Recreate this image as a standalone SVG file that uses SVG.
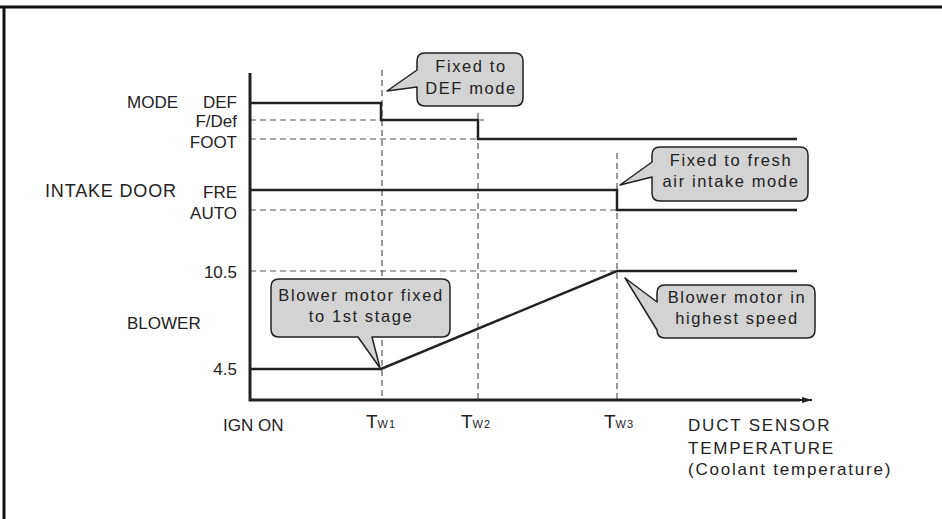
<svg xmlns="http://www.w3.org/2000/svg" width="942" height="519" viewBox="0 0 942 519">
  <style>
    .lbl { font-family: "Liberation Sans", Arial, sans-serif; font-size: 17px; fill: #222; }
    .wide { letter-spacing: 1.8px; }
    .call { font-family: "Liberation Sans", Arial, sans-serif; font-size: 16.5px; fill: #222; letter-spacing: 1.6px; text-anchor: middle; }
    .tw { font-size: 19px; }
    .sub { font-size: 11px; letter-spacing: 1px; }
    .axis { stroke: #222; stroke-width: 3; fill: none; }
    .trace { stroke: #222; stroke-width: 2.5; fill: none; stroke-linejoin: miter; }
    .guide { stroke: #555; stroke-width: 1.2; stroke-dasharray: 6 4; fill: none; }
    .bubble { fill: #d3d3d3; stroke: #222; stroke-width: 1.5; stroke-linejoin: round; }
  </style>
  <defs>
    <marker id="arrow" viewBox="0 0 10 6" refX="10" refY="3" markerWidth="10" markerHeight="6" markerUnits="userSpaceOnUse" orient="auto">
      <path d="M0,0 L10,3 L0,6 Z" fill="#222"/>
    </marker>
  </defs>

  <rect width="942" height="519" fill="#fff"/>
  <!-- frame -->
  <path d="M0,7 H942 M4,7 V519" stroke="#111" stroke-width="3" fill="none"/>

  <!-- dashed guide lines -->
  <g id="guides">
    <path class="guide" d="M382,70 V400 M478,113 V400 M617,153 V400"/>
    <path class="guide" d="M250,120 H484 M250,139 H478 M250,210 H617 M250,271 H617"/>
  </g>

  <!-- axes -->
  <g id="axes">
    <path class="axis" d="M250,73 V400 H800"/>
    <path d="M798,400 H812" stroke="#222" stroke-width="2" marker-end="url(#arrow)"/>
  </g>

  <!-- signal traces -->
  <g id="connectors">
    <path class="trace" d="M250,103 H381 V120 H478 V139 H797"/>
    <path class="trace" d="M250,190 H617 V210 H797"/>
    <path class="trace" d="M250,369 H381 L617,271 H797"/>
  </g>

  <!-- axis labels -->
  <g id="labels">
    <text class="lbl" x="127" y="108">MODE</text>
    <text class="lbl" x="237" y="108" text-anchor="end">DEF</text>
    <text class="lbl" x="237" y="127" text-anchor="end">F/Def</text>
    <text class="lbl" x="237" y="148" text-anchor="end">FOOT</text>
    <text class="lbl" x="45" y="197" style="font-size:18px" textLength="131" lengthAdjust="spacing">INTAKE DOOR</text>
    <text class="lbl" x="237" y="198" text-anchor="end">FRE</text>
    <text class="lbl" x="237" y="219" text-anchor="end">AUTO</text>
    <text class="lbl" x="237" y="278" text-anchor="end">10.5</text>
    <text class="lbl" x="127" y="329">BLOWER</text>
    <text class="lbl" x="237" y="375" text-anchor="end">4.5</text>
    <text class="lbl" x="223" y="431">IGN ON</text>
    <text class="lbl tw" x="366" y="428">T<tspan class="sub">W1</tspan></text>
    <text class="lbl tw" x="461" y="428">T<tspan class="sub">W2</tspan></text>
    <text class="lbl tw" x="604" y="428">T<tspan class="sub">W3</tspan></text>
    <text class="lbl wide" x="688" y="431">DUCT SENSOR</text>
    <text class="lbl wide" x="688" y="454">TEMPERATURE</text>
    <text class="lbl wide" x="688" y="475">(Coolant temperature)</text>
  </g>

  <!-- callouts -->
  <g id="callout-def">
    <path class="bubble" d="M425,53 H515 Q523,53 523,61 V98 Q523,106 515,106 H425 Q417,106 417,98 V87 L387,91 L417,70 V61 Q417,53 425,53 Z"/>
    <text class="call" x="471" y="72">Fixed to</text>
    <text class="call" x="471" y="94">DEF mode</text>
  </g>
  <g id="callout-fresh">
    <path class="bubble" d="M660,147 H800 Q808,147 808,155 V193 Q808,201 800,201 H660 Q652,201 652,193 V177 L620,185 L652,162 V155 Q652,147 660,147 Z"/>
    <text class="call" x="731" y="166">Fixed to fresh</text>
    <text class="call" x="731" y="187">air intake mode</text>
  </g>
  <g id="callout-highest">
    <path class="bubble" d="M665,285 H807 Q815,285 815,293 V330 Q815,338 807,338 H665 Q657,338 657,330 L625,278 L657,302 V293 Q657,285 665,285 Z"/>
    <text class="call" x="737" y="303">Blower motor in</text>
    <text class="call" x="737" y="324">highest speed</text>
  </g>
  <g id="callout-stage1">
    <path class="bubble" d="M279,279 H442 Q450,279 450,287 V329 Q450,337 442,337 H372 L380,368 L358,337 H279 Q271,337 271,329 V287 Q271,279 279,279 Z"/>
    <text class="call" x="361" y="301">Blower motor fixed</text>
    <text class="call" x="361" y="322">to 1st stage</text>
  </g>
</svg>
